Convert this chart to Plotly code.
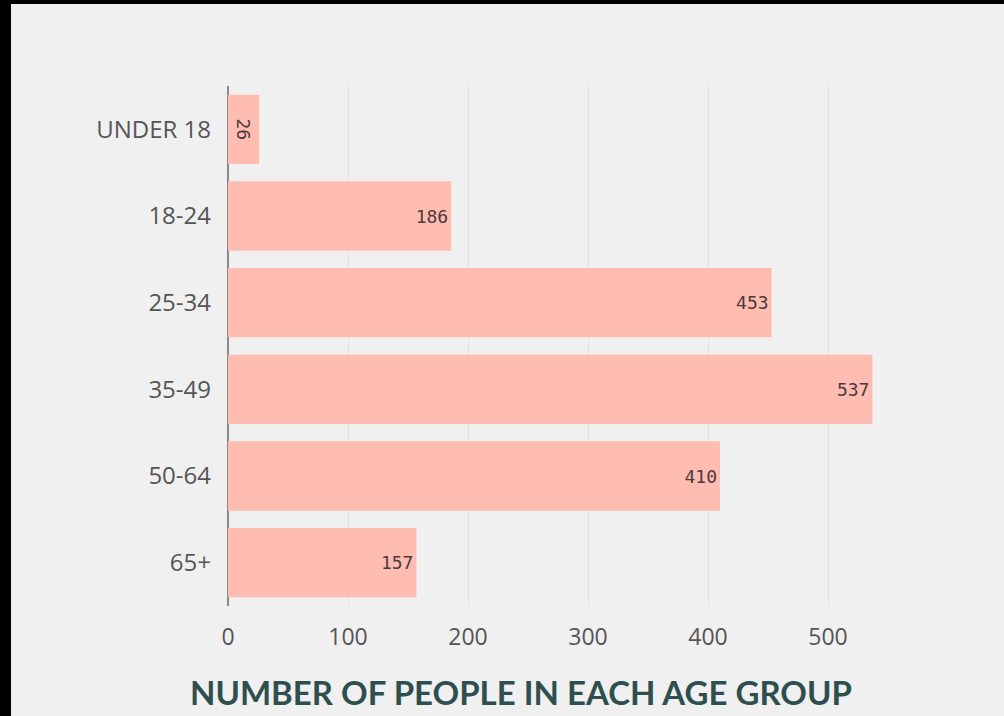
import plotly.graph_objects as go

categories = ["UNDER 18", "18-24", "25-34", "35-49", "50-64", "65+"]
values = [26, 186, 453, 537, 410, 157]
x_ticks = [0, 100, 200, 300, 400, 500]
title_text = "NUMBER OF PEOPLE IN EACH AGE GROUP"
rotated_label = ["UNDER 18"]  # label drawn vertically in the reference

W, H = 1004, 716
ML, MR, MT, MB = 228, 104, 86, 110
PW, PH = W - ML - MR, H - MT - MB

BAR_COLOR = "#ffbcb1"
LABEL_FONT = dict(family="DejaVu Sans Mono", size=18, color="#4d3a3d")

flat_c = [c for c in categories if c not in rotated_label]
flat_v = [v for c, v in zip(categories, values) if c not in rotated_label]
rot_c = [c for c in categories if c in rotated_label]
rot_v = [v for c, v in zip(categories, values) if c in rotated_label]

fig = go.Figure()
fig.add_trace(go.Bar(
    y=flat_c, x=flat_v, orientation="h",
    marker=dict(color=BAR_COLOR, line=dict(width=0)),
    text=[str(v) for v in flat_v],
    textposition="inside", insidetextanchor="end", textangle=0,
    textfont=LABEL_FONT,
))
fig.add_trace(go.Bar(
    y=rot_c, x=rot_v, orientation="h",
    marker=dict(color=BAR_COLOR, line=dict(width=0)),
    text=[str(v) for v in rot_v],
    textposition="inside", insidetextanchor="middle", textangle=90,
    textfont=LABEL_FONT,
))

fig.update_layout(
    width=W, height=H,
    margin=dict(l=ML, r=MR, t=MT, b=MB, pad=0),
    paper_bgcolor="#f0f0f0", plot_bgcolor="#f0f0f0",
    bargap=0.2, barmode="overlay", showlegend=False,
    font=dict(family="Open Sans", color="#555555"),
)
fig.update_yaxes(
    categoryorder="array", categoryarray=categories, autorange="reversed",
    tickfont=dict(family="Open Sans", size=24, color="#555555"),
    ticks="", ticklabelstandoff=16, showgrid=False, zeroline=False,
    showline=False,
)
fig.update_xaxes(
    range=[0, 560], tickvals=x_ticks, ticktext=[str(t) for t in x_ticks],
    tickfont=dict(family="Open Sans", size=23, color="#555555"),
    ticks="", ticklabelstandoff=15,
    showgrid=True, gridcolor="#e2e2e2", gridwidth=1,
    zeroline=True, zerolinecolor="#8a8a8a", zerolinewidth=2,
    showline=False,
)

def px_x(p):
    return (p - ML) / PW

def px_y(p):
    return 1 - (p - MT) / PH

fig.add_shape(type="rect", xref="paper", yref="paper",
              x0=px_x(0), x1=px_x(1004), y0=px_y(0), y1=px_y(4),
              fillcolor="black", line=dict(width=0), layer="above")
fig.add_shape(type="rect", xref="paper", yref="paper",
              x0=px_x(0), x1=px_x(11), y0=px_y(0), y1=px_y(716),
              fillcolor="black", line=dict(width=0), layer="above")

fig.add_annotation(
    text=f"<b>{title_text}</b>", xref="paper", yref="paper",
    x=px_x(521), y=px_y(692), xanchor="center", yanchor="middle",
    showarrow=False,
    font=dict(family="Lato", size=33, color="#2f4f4f"),
)

fig.write_html("out.html")
